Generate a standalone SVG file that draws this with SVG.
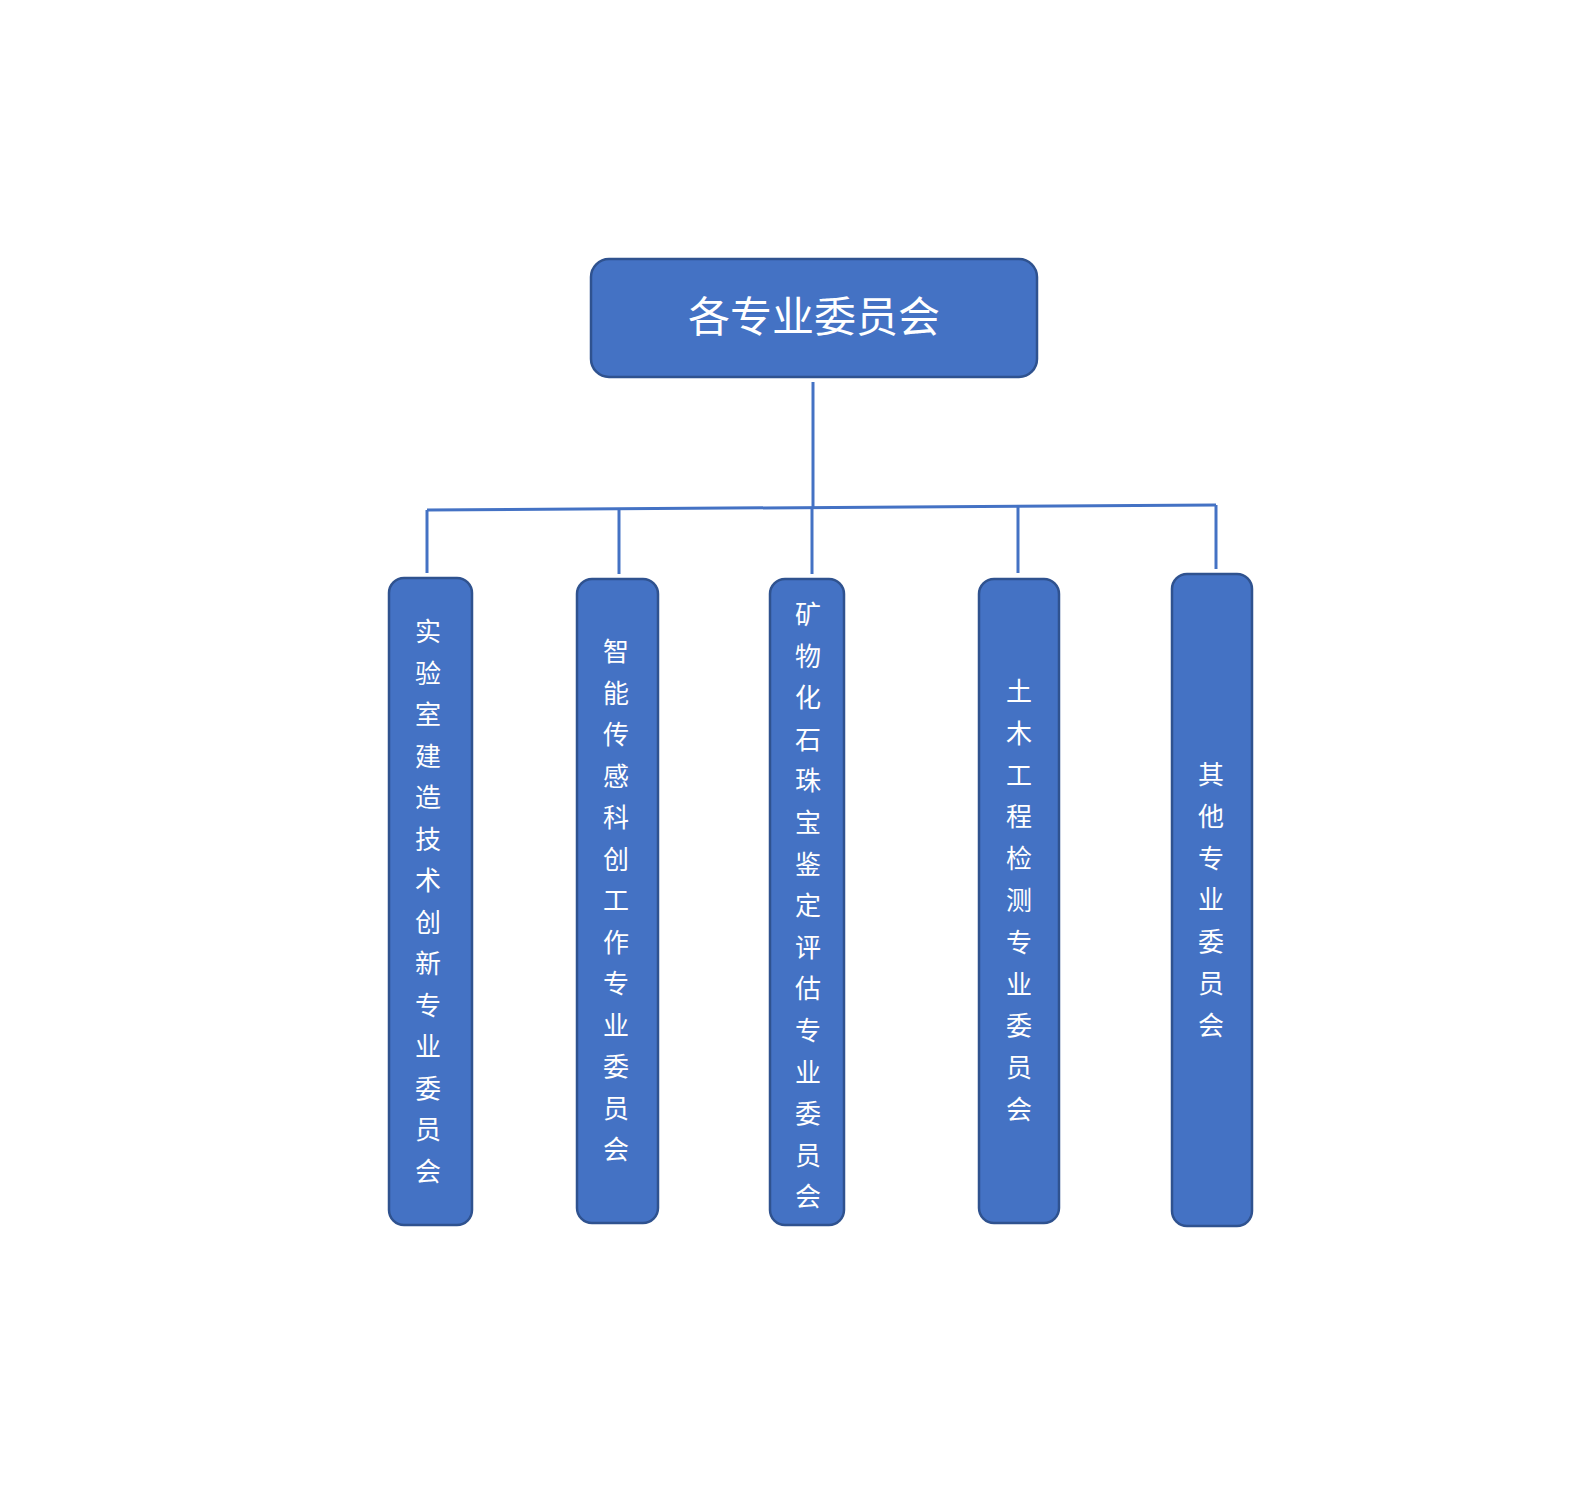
<svg xmlns="http://www.w3.org/2000/svg" width="1587" height="1485" viewBox="0 0 1587 1485">
<style>
.box{fill:#4472C4;stroke:#2F528F;stroke-width:2.5}
.lbl{fill:#FFFFFF;font-family:"Liberation Serif","Noto Sans CJK SC",serif;font-size:26px;text-anchor:middle;dominant-baseline:central}
.title{fill:#FFFFFF;font-family:"Liberation Serif","Noto Sans CJK SC",serif;font-size:42px;text-anchor:middle;dominant-baseline:central}
.conn{fill:none;stroke:#4472C4;stroke-width:3}
</style>
<rect width="1587" height="1485" fill="#FFFFFF"/>
<g id="connectors">
<line class="conn" x1="813" y1="382" x2="813" y2="508"/>
<line class="conn" x1="427" y1="510" x2="1216" y2="505"/>
<line class="conn" x1="427" y1="510" x2="427" y2="573"/>
<line class="conn" x1="619" y1="509" x2="619" y2="574"/>
<line class="conn" x1="812" y1="508" x2="812" y2="574"/>
<line class="conn" x1="1018" y1="507" x2="1018" y2="573"/>
<line class="conn" x1="1216" y1="505" x2="1216" y2="569"/>
</g>
<g id="root">
<rect class="box" x="591" y="259" width="446" height="118" rx="18"/>
<text class="title" x="814" y="318">各专业委员会</text>
</g>
<g id="n1">
<rect class="box" x="389" y="578" width="83" height="647" rx="15"/>
<text class="lbl"><tspan x="428" y="632">实</tspan><tspan x="428" y="673.5">验</tspan><tspan x="428" y="715">室</tspan><tspan x="428" y="756.5">建</tspan><tspan x="428" y="798">造</tspan><tspan x="428" y="839.5">技</tspan><tspan x="428" y="881">术</tspan><tspan x="428" y="922.5">创</tspan><tspan x="428" y="964">新</tspan><tspan x="428" y="1005.5">专</tspan><tspan x="428" y="1047">业</tspan><tspan x="428" y="1088.5">委</tspan><tspan x="428" y="1130">员</tspan><tspan x="428" y="1171.5">会</tspan></text>
</g>
<g id="n2">
<rect class="box" x="577" y="579" width="81" height="644" rx="15"/>
<text class="lbl"><tspan x="616" y="652">智</tspan><tspan x="616" y="693.5">能</tspan><tspan x="616" y="735">传</tspan><tspan x="616" y="776.5">感</tspan><tspan x="616" y="818">科</tspan><tspan x="616" y="859.5">创</tspan><tspan x="616" y="901">工</tspan><tspan x="616" y="942.5">作</tspan><tspan x="616" y="984">专</tspan><tspan x="616" y="1025.5">业</tspan><tspan x="616" y="1067">委</tspan><tspan x="616" y="1108.5">员</tspan><tspan x="616" y="1150">会</tspan></text>
</g>
<g id="n3">
<rect class="box" x="770" y="579" width="74" height="646" rx="15"/>
<text class="lbl"><tspan x="808" y="615">矿</tspan><tspan x="808" y="656.6">物</tspan><tspan x="808" y="698.2">化</tspan><tspan x="808" y="739.8">石</tspan><tspan x="808" y="781.4">珠</tspan><tspan x="808" y="823">宝</tspan><tspan x="808" y="864.6">鉴</tspan><tspan x="808" y="906.2">定</tspan><tspan x="808" y="947.8">评</tspan><tspan x="808" y="989.4">估</tspan><tspan x="808" y="1031">专</tspan><tspan x="808" y="1072.6">业</tspan><tspan x="808" y="1114.2">委</tspan><tspan x="808" y="1155.8">员</tspan><tspan x="808" y="1197.4">会</tspan></text>
</g>
<g id="n4">
<rect class="box" x="979" y="579" width="80" height="644" rx="15"/>
<text class="lbl"><tspan x="1019" y="692">土</tspan><tspan x="1019" y="733.8">木</tspan><tspan x="1019" y="775.6">工</tspan><tspan x="1019" y="817.4">程</tspan><tspan x="1019" y="859.2">检</tspan><tspan x="1019" y="901">测</tspan><tspan x="1019" y="942.8">专</tspan><tspan x="1019" y="984.6">业</tspan><tspan x="1019" y="1026.4">委</tspan><tspan x="1019" y="1068.2">员</tspan><tspan x="1019" y="1110">会</tspan></text>
</g>
<g id="n5">
<rect class="box" x="1172" y="574" width="80" height="652" rx="15"/>
<text class="lbl"><tspan x="1211" y="775">其</tspan><tspan x="1211" y="816.8">他</tspan><tspan x="1211" y="858.6">专</tspan><tspan x="1211" y="900.4">业</tspan><tspan x="1211" y="942.2">委</tspan><tspan x="1211" y="984">员</tspan><tspan x="1211" y="1025.8">会</tspan></text>
</g>
</svg>
